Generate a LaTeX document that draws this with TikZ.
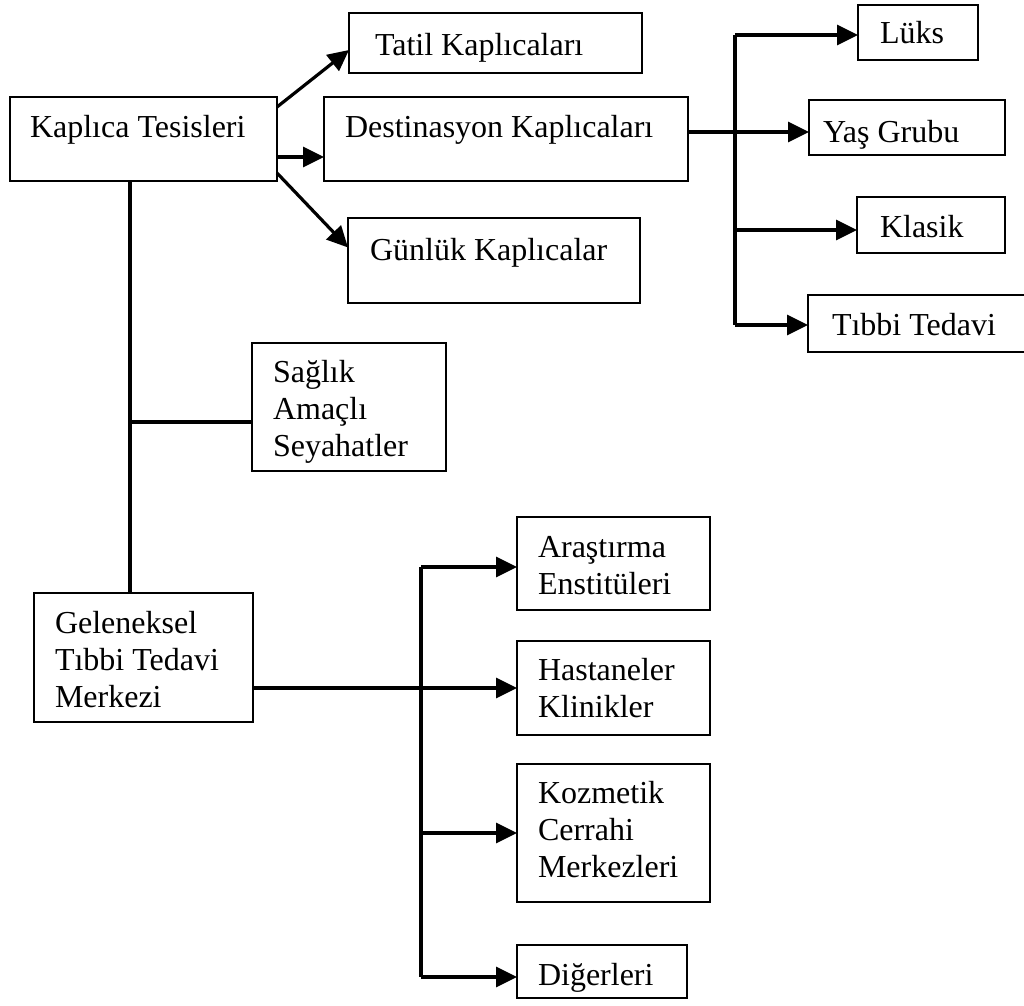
\documentclass[tikz,border=0pt]{standalone}
\usepackage{fontspec}
\setmainfont{Liberation Serif}
\usetikzlibrary{arrows.meta,calc}

\tikzset{
  frame/.style={draw, line width=2.8pt, inner sep=0pt, outer sep=0pt, anchor=north west},
  txt/.style={inner sep=0pt, outer sep=0pt, anchor=base west, align=left,
    font=\fontsize{32}{37}\selectfont},
  link/.style={line width=3.2pt},
  arrow/.style={link, -{Triangle[length=21pt,width=20pt]}},
}

\begin{document}
\begin{tikzpicture}[x=1pt, y=-1pt]
  \useasboundingbox (0,0) rectangle (1024,1005);

  % frames
  \node[frame, minimum width=267pt, minimum height=84pt]  (kt)     at (10,97)   {};
  \node[frame, minimum width=293pt, minimum height=60pt]  (tatil)  at (349,13)  {};
  \node[frame, minimum width=364pt, minimum height=84pt]  (dest)   at (324,97)  {};
  \node[frame, minimum width=292pt, minimum height=85pt]  (gunluk) at (348,218) {};
  \node[frame, minimum width=120pt, minimum height=55pt]  (luks)   at (858,5)   {};
  \node[frame, minimum width=196pt, minimum height=55pt]  (yas)    at (809,100) {};
  \node[frame, minimum width=148pt, minimum height=56pt]  (klasik) at (857,197) {};
  \node[frame, minimum width=222pt, minimum height=57pt]  (tibbi)  at (808,295) {};
  \node[frame, minimum width=194pt, minimum height=128pt] (saglik) at (252,343) {};
  \node[frame, minimum width=219pt, minimum height=129pt] (gel)    at (34,593)  {};
  \node[frame, minimum width=193pt, minimum height=93pt]  (aras)   at (517,517) {};
  \node[frame, minimum width=193pt, minimum height=94pt]  (hast)   at (517,641) {};
  \node[frame, minimum width=193pt, minimum height=138pt] (koz)    at (517,764) {};
  \node[frame, minimum width=170pt, minimum height=53pt]  (dig)    at (517,945) {};

  % labels (multi-line labels sit on the baseline of their last line)
  \node[txt] (kt-t)     at (30,137)  {Kaplıca Tesisleri};
  \node[txt] (tatil-t)  at (375,55)  {Tatil Kaplıcaları};
  \node[txt] (dest-t)   at (345,137) {Destinasyon Kaplıcaları};
  \node[txt] (gunluk-t) at (370,260) {Günlük Kaplıcalar};
  \node[txt] (luks-t)   at (880,43)  {Lüks};
  \node[txt] (yas-t)    at (823,142) {Yaş Grubu};
  \node[txt] (klasik-t) at (880,237) {Klasik};
  \node[txt] (tibbi-t)  at (832,335) {Tıbbi Tedavi};
  \node[txt] (saglik-t) at (273,456) {Sağlık\\Amaçlı\\Seyahatler};
  \node[txt] (gel-t)    at (55,707)  {Geleneksel\\Tıbbi Tedavi\\Merkezi};
  \node[txt] (aras-t)   at (538,594) {Araştırma\\Enstitüleri};
  \node[txt] (hast-t)   at (538,717) {Hastaneler\\Klinikler};
  \node[txt] (koz-t)    at (538,877) {Kozmetik\\Cerrahi\\Merkezleri};
  \node[txt] (dig-t)    at (538,985) {Diğerleri};

  % first level
  \draw[arrow] ([yshift=-10pt]kt.north east) -- ([yshift=-7pt]tatil.west);
  \draw[arrow] ([yshift=-18pt]kt.east) -- ([yshift=-18pt]dest.west);
  \draw[arrow] ([yshift=8pt]kt.south east) -- ([yshift=13pt]gunluk.west);

  % main spine
  \draw[link] ([xshift=-13.5pt]kt.south) -- ([xshift=-13.5pt]gel.north);
  \coordinate (sj) at (130,422);
  \draw[link] (sj) -- (sj -| saglik.west);

  % destination types
  \coordinate (dj) at ([yshift=7pt]dest.east);
  \draw[arrow] (dj) -- (dj -| yas.west);
  \coordinate (rs1) at (735,35);
  \coordinate (rs2) at (735,325);
  \coordinate (rs3) at (735,230);
  \draw[link] (rs1) -- (rs2);
  \draw[arrow] (rs1) -- (rs1 -| luks.west);
  \draw[arrow] (rs3) -- (rs3 -| klasik.west);
  \draw[arrow] (rs2) -- (rs2 -| tibbi.west);

  % medical centres
  \coordinate (gj) at (gel.east |- hast.west);
  \draw[arrow] (gj) -- (hast.west);
  \coordinate (ls1) at (421,567);
  \coordinate (ls2) at (421,977);
  \draw[link] (ls1) -- (ls2);
  \draw[arrow] (ls1) -- (ls1 -| aras.west);
  \draw[arrow] (ls1 |- koz.west) -- (koz.west);
  \draw[arrow] (ls2) -- (ls2 -| dig.west);
\end{tikzpicture}
\end{document}
